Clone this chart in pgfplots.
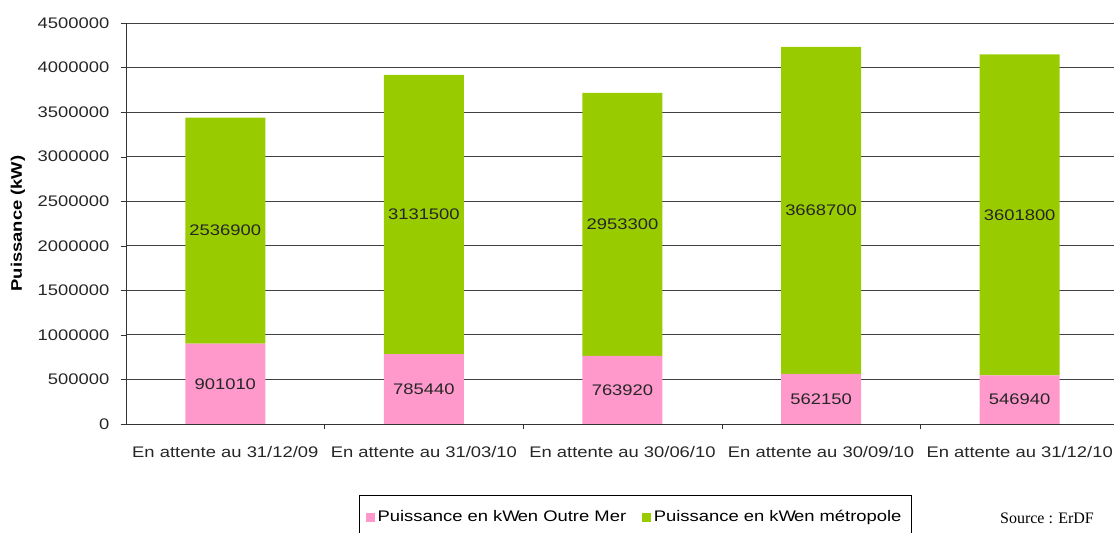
\documentclass[border=0pt]{standalone}
\usepackage{fontspec}
\setmainfont{Liberation Sans}[FakeStretch=1.2]
\newfontfamily\serif{Liberation Serif}
\usepackage{pgfplots}
\pgfplotsset{compat=1.18}
\definecolor{vert}{HTML}{99CC00}
\definecolor{rose}{HTML}{FF99CC}
\begin{document}
\begin{tikzpicture}
\pgfplotsset{
  commun/.style={
    scale only axis, width=741pt, height=300.75pt,
    xmin=-0.5, xmax=4.475, ymin=0, ymax=4500000,
    at={(0,0)}, anchor=south west,
  }
}
\begin{axis}[commun, name=main,
  ybar stacked, bar width=60pt,
  axis x line*=bottom, axis y line*=left,
  axis line style={black!80},
  tick align=outside, major tick length=4pt,
  tick style={black!80},
  ytick={0,500000,1000000,1500000,2000000,2500000,3000000,3500000,4000000,4500000},
  scaled y ticks=false,
  /pgf/number format/.cd, fixed, 1000 sep={}, assume math mode=true, /pgfplots/.cd,
  ymajorgrids, grid style={black!75, line width=0.6pt},
  xtick={0.5,1.5,2.5,3.5}, xticklabels={},
  extra x ticks={0,1,2,3,4},
  extra x tick labels={En attente au 31/12/09, En attente au 31/03/10, En attente au 30/06/10, En attente au 30/09/10, En attente au 31/12/10},
  extra x tick style={major tick length=0pt, xticklabel style={yshift=-13pt}},
  tick label style={font=\fontsize{11.5}{13.8}\selectfont, text=black!85},
  yticklabel style={xshift=-5pt},
  ylabel={\bfseries Puissance (kW)},
  ylabel style={at={(axis description cs:-0.1093,0.5)}, anchor=center, font=\fontsize{11.5}{13.8}\selectfont},
  legend style={at={(axis description cs:0.5152,-0.1771)}, anchor=north, legend columns=2,
    draw=black, font=\fontsize{11.5}{13.8}\selectfont, inner xsep=5pt, inner ysep=9.5pt,
    /tikz/every even column/.append style={column sep=10pt}},
  legend image code/.code={\fill[#1, draw=none] (0pt,-3.4pt) rectangle (6.8pt,3.4pt);},
]
\addplot[fill=rose, draw=none] coordinates {(0,901010) (1,785440) (2,763920) (3,562150) (4,546940)};
\addlegendentry{Puissance en kW\kern-1.5pt en Outre Mer}
\addplot[fill=vert, draw=none] coordinates {(0,2536900) (1,3131500) (2,2953300) (3,3668700) (4,3601800)};
\addlegendentry{Puissance en kW\kern-1.5pt en métropole}
\coordinate (O) at (rel axis cs:0,0);
\coordinate (T) at (rel axis cs:1,1);
\end{axis}
% valeurs au milieu de chaque segment
\begin{axis}[commun, hide axis,
  nodes near coords, point meta=explicit symbolic,
  every node near coord/.append style={anchor=center, font=\fontsize{11.5}{13.8}\selectfont, text=black!85},
]
\addplot[draw=none] coordinates {
  (0,450505)[901010] (1,392720)[785440] (2,381960)[763920] (3,281075)[562150] (4,273470)[546940]
  (0,2169460)[2536900] (1,2351190)[3131500] (2,2240570)[2953300] (3,2396500)[3668700] (4,2347840)[3601800]
};
\end{axis}
\node[font=\serif\fontsize{12}{14}\selectfont, text=black] at ([shift={(690.75pt,-71pt)}]O) {Source : ErDF};
\pgfresetboundingbox
\path ([shift={(-94.5pt,-81.75pt)}]O) rectangle ([shift={(0pt,17.25pt)}]T);
\end{tikzpicture}
\end{document}
